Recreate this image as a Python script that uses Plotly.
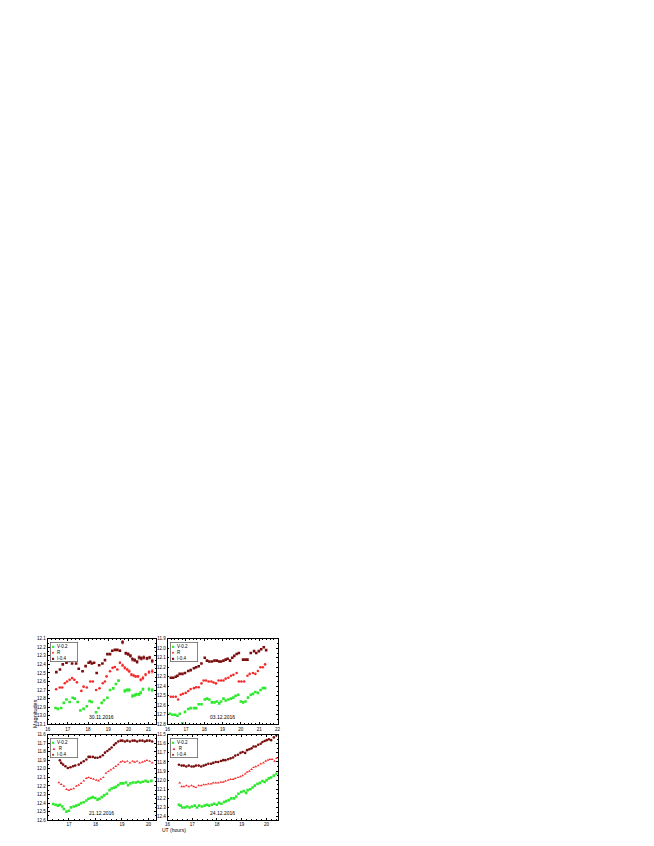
import plotly.graph_objects as go
from plotly.subplots import make_subplots

# ---- 30.11.2016 ----
t1_V = [16.39,16.51,16.67,16.80,16.93,17.09,17.24,17.34,17.49,17.62,17.78,17.94,18.08,18.19,18.40,18.52,18.68,18.79,18.96,19.09,
        19.25,19.38,19.51,19.82,19.94,20.04,20.20,20.31,20.40,20.53,20.61,20.72,21.02,21.18]
m1_V = [12.91,12.92,12.91,12.85,12.81,12.84,12.79,12.80,12.84,12.94,12.92,12.89,12.83,12.84,12.96,12.91,12.85,12.82,12.79,12.70,
        12.68,12.63,12.59,12.71,12.70,12.70,12.77,12.76,12.75,12.75,12.73,12.69,12.69,12.70]
e1_V = [0,0,0,0,0,0,0,0,0,0,0,0,0,0,0,0,0,0,0,0,0,0,0,
        0.02,0.02,0.02,0.02,0.015,0.015,0.015,0.015,0.015,0.02,0.02]
t1_R = [16.42,16.60,16.72,16.85,16.96,17.09,17.21,17.32,17.45,17.67,17.78,17.94,18.11,18.24,18.40,18.57,18.73,18.84,18.92,19.09,
        19.22,19.33,19.45,19.58,19.71,19.82,19.94,20.04,20.15,20.26,20.36,20.48,20.61,20.72,20.85,21.02,21.18]
m1_R = [12.69,12.67,12.67,12.62,12.60,12.58,12.56,12.58,12.61,12.71,12.66,12.67,12.60,12.60,12.70,12.68,12.62,12.60,12.54,12.48,
        12.44,12.43,12.46,12.38,12.41,12.44,12.46,12.48,12.52,12.53,12.54,12.54,12.58,12.56,12.52,12.49,12.48]
e1_R = [0,0,0,0,0,0,0,0,0,0,0,0,0,0,0,0,0,0,0,0,0,0,0,
        0.01,0.015,0.015,0.015,0.015,0.015,0.015,0.01,0.01,0.015,0.02,0.015,0.015,0.02]
t1_I = [16.43,16.61,16.75,16.93,17.05,17.21,17.41,17.54,17.73,17.88,18.03,18.11,18.19,18.30,18.43,18.55,18.71,18.84,18.96,19.09,
        19.20,19.33,19.45,19.58,19.71,19.87,19.99,20.10,20.20,20.31,20.43,20.53,20.64,20.76,20.92,21.05,21.18]
m1_I = [12.49,12.46,12.40,12.38,12.36,12.39,12.39,12.45,12.48,12.42,12.38,12.37,12.39,12.38,12.50,12.41,12.39,12.35,12.28,12.28,
        12.24,12.23,12.23,12.24,12.14,12.27,12.28,12.30,12.34,12.35,12.37,12.32,12.33,12.32,12.33,12.32,12.36]
e1_I = [0,0,0,0,0,0,0,0,0,0,0,0,0,0,0,0,0,0,0,0,0,0,0,
        0.01,0.02,0.015,0.015,0.015,0.02,0.015,0.015,0.02,0.02,0.02,0.015,0.015,0.02]

# ---- 03.12.2016 ----
t2_V = [16.13,16.27,16.41,16.54,16.67,16.81,16.95,17.13,17.26,17.44,17.56,17.70,17.85,18.03,18.15,18.28,18.42,18.56,18.69,18.82,
        18.92,19.05,19.17,19.32,19.46,19.59,19.71,19.86,20.00,20.12,20.25,20.39,20.54,20.66,20.79,20.93,21.07,21.20,21.32]
m2_V = [12.69,12.70,12.70,12.71,12.69,12.79,12.67,12.64,12.63,12.63,12.63,12.59,12.59,12.54,12.53,12.54,12.57,12.57,12.56,12.58,
        12.56,12.53,12.55,12.54,12.53,12.52,12.50,12.49,12.56,12.57,12.56,12.52,12.49,12.48,12.46,12.47,12.44,12.42,12.42]
t2_R = [16.18,16.31,16.45,16.58,16.72,16.84,16.99,17.13,17.26,17.44,17.56,17.70,17.85,17.97,18.10,18.24,18.39,18.51,18.64,18.78,
        18.92,19.05,19.17,19.32,19.46,19.59,19.77,19.89,20.03,20.18,20.36,20.48,20.66,20.79,20.93,21.07,21.20,21.32]
m2_R = [12.51,12.51,12.51,12.54,12.49,12.48,12.47,12.45,12.43,12.42,12.41,12.41,12.37,12.34,12.34,12.35,12.35,12.36,12.37,12.34,
        12.34,12.34,12.32,12.31,12.29,12.28,12.26,12.35,12.35,12.35,12.29,12.27,12.26,12.27,12.24,12.20,12.20,12.17]
t2_I = [16.18,16.31,16.45,16.54,16.66,16.81,16.95,17.13,17.26,17.44,17.56,17.70,17.85,18.03,18.15,18.28,18.42,18.56,18.69,18.82,
        18.92,19.05,19.17,19.28,19.41,19.53,19.64,19.77,19.89,20.12,20.25,20.36,20.54,20.72,20.84,20.98,21.11,21.25,21.38]
m2_I = [12.31,12.31,12.30,12.29,12.27,12.27,12.26,12.24,12.23,12.21,12.20,12.19,12.16,12.10,12.13,12.14,12.14,12.13,12.13,12.14,
        12.14,12.13,12.12,12.11,12.13,12.10,12.08,12.06,12.05,12.12,12.12,12.12,12.05,12.03,12.05,12.03,12.01,11.99,12.02]

# ---- 21.12.2016 ----
t3_V = [16.41,16.50,16.59,16.66,16.75,16.81,16.91,17.00,17.08,17.18,17.28,17.37,17.46,17.56,17.66,17.74,17.83,17.90,17.99,18.08,
        18.15,18.24,18.33,18.43,18.53,18.61,18.70,18.77,18.86,18.95,19.05,19.15,19.23,19.32,19.42,19.52,19.61,19.70,19.79,19.89,
        19.98,20.11]
m3_V = [12.41,12.42,12.43,12.42,12.44,12.47,12.50,12.49,12.45,12.44,12.43,12.42,12.40,12.39,12.37,12.35,12.34,12.33,12.34,12.36,
        12.35,12.33,12.31,12.29,12.25,12.23,12.22,12.21,12.19,12.17,12.17,12.16,12.19,12.17,12.16,12.16,12.15,12.16,12.15,12.14,
        12.15,12.14]
t3_R = [16.62,16.71,16.81,16.91,17.00,17.08,17.18,17.28,17.37,17.46,17.56,17.66,17.74,17.83,17.93,18.03,18.12,18.20,18.30,18.40,
        18.49,18.58,18.68,18.77,18.86,18.95,19.02,19.11,19.20,19.30,19.40,19.48,19.57,19.67,19.77,19.86,19.94,20.04,20.14]
m3_R = [12.16,12.18,12.20,12.24,12.25,12.24,12.23,12.20,12.19,12.17,12.14,12.11,12.10,12.11,12.12,12.13,12.14,12.12,12.10,12.05,
        12.03,12.01,11.99,11.97,11.95,11.92,11.91,11.92,11.91,11.93,11.91,11.92,11.91,11.93,11.92,11.91,11.90,11.91,11.93]
t3_I = [16.66,16.71,16.78,16.87,16.96,17.06,17.16,17.24,17.37,17.46,17.56,17.66,17.74,17.80,17.90,17.99,18.08,18.18,18.28,18.36,
        18.45,18.53,18.61,18.70,18.77,18.86,18.95,19.02,19.11,19.20,19.30,19.40,19.48,19.57,19.67,19.77,19.86,19.94,20.04,20.14]
m3_I = [11.90,11.93,11.95,11.97,11.99,11.98,11.97,11.96,11.95,11.93,11.91,11.89,11.86,11.86,11.86,11.87,11.87,11.86,11.84,11.81,
        11.79,11.77,11.75,11.72,11.70,11.68,11.67,11.67,11.68,11.67,11.68,11.67,11.67,11.68,11.67,11.67,11.68,11.67,11.67,11.68]

# ---- 24.12.2016 ----
t4_V = [16.46,16.53,16.60,16.70,16.79,16.89,16.99,17.10,17.19,17.28,17.39,17.50,17.59,17.68,17.79,17.89,17.99,18.08,18.18,18.29,
        18.38,18.48,18.58,18.69,18.78,18.87,18.98,19.08,19.18,19.24,19.35,19.44,19.53,19.64,19.74,19.84,19.93,20.01,20.10,20.19,
        20.30,20.41]
m4_V = [12.27,12.28,12.30,12.30,12.29,12.30,12.29,12.28,12.30,12.28,12.29,12.28,12.27,12.28,12.27,12.26,12.27,12.25,12.26,12.24,
        12.23,12.22,12.20,12.20,12.18,12.15,12.13,12.12,12.14,12.11,12.10,12.08,12.06,12.04,12.03,12.01,12.02,12.00,11.98,11.97,
        11.95,11.93]
t4_R = [16.49,16.57,16.66,16.76,16.86,16.97,17.06,17.15,17.26,17.36,17.46,17.55,17.65,17.76,17.85,17.95,18.05,18.16,18.25,18.34,
        18.45,18.55,18.65,18.74,18.85,18.95,19.04,19.14,19.22,19.31,19.40,19.48,19.57,19.67,19.77,19.88,19.97,20.06,20.14,20.23,
        20.33,20.41]
m4_R = [12.03,12.07,12.07,12.06,12.07,12.06,12.07,12.08,12.06,12.06,12.05,12.05,12.04,12.04,12.03,12.03,12.03,12.02,12.02,12.01,
        12.00,11.99,11.99,11.98,11.97,11.96,11.95,11.93,11.91,11.90,11.88,11.86,11.85,11.84,11.82,11.81,11.79,11.78,11.77,11.77,
        11.79,11.76]
t4_I = [16.46,16.57,16.66,16.76,16.86,16.97,17.06,17.15,17.26,17.36,17.46,17.55,17.65,17.76,17.85,17.95,18.05,18.16,18.25,18.34,
        18.45,18.55,18.65,18.74,18.85,18.95,19.04,19.14,19.22,19.31,19.40,19.48,19.57,19.67,19.77,19.84,19.93,20.01,20.10,20.19,
        20.30,20.41]
m4_I = [11.83,11.84,11.84,11.85,11.84,11.85,11.85,11.84,11.84,11.85,11.84,11.83,11.82,11.82,11.81,11.80,11.80,11.79,11.78,11.78,
        11.77,11.76,11.75,11.73,11.72,11.70,11.69,11.70,11.67,11.66,11.65,11.63,11.63,11.61,11.60,11.58,11.57,11.56,11.55,11.56,
        11.53,11.51]

dates = ["30.11.2016", "03.12.2016", "21.12.2016", "24.12.2016"]
labels = ["V-0.2", "R", "I-0.4"]
cV, cR, cI = "#2ee82e", "#f52a2a", "#7a0e0e"

fig = make_subplots(rows=2, cols=2)

def add(t, m, color, symbol, row, col, err=None):
    ey = None
    if err is not None:
        ey = dict(type="data", array=err, thickness=0.5, width=1, color=color)
    fig.add_trace(go.Scatter(x=t, y=m, mode="markers", error_y=ey,
                             marker=dict(color=color, size=2.6, symbol=symbol, line=dict(width=0)),
                             showlegend=False), row=row, col=col)

add(t1_V, m1_V, cV, "square", 1, 1, e1_V)
add(t1_R, m1_R, cR, "circle", 1, 1, e1_R)
add(t1_I, m1_I, cI, "square", 1, 1, e1_I)
add(t2_V, m2_V, cV, "square", 1, 2)
add(t2_R, m2_R, cR, "circle", 1, 2)
add(t2_I, m2_I, cI, "square", 1, 2)
add(t3_V, m3_V, cV, "square", 2, 1)
add(t3_R, m3_R, cR, "triangle-up", 2, 1)
add(t3_I, m3_I, cI, "circle", 2, 1)
add(t4_V, m4_V, cV, "square", 2, 2)
add(t4_R, m4_R, cR, "triangle-up", 2, 2)
add(t4_I, m4_I, cI, "circle", 2, 2)

W, H = 654, 846
xl = [37 / W, 146 / W]
xr = [158 / W, 269 / W]
yt = [1 - 718.5 / H, 1 - 632.5 / H]
yb = [1 - 815 / H, 1 - 729 / H]

ax = dict(showline=True, linecolor="black", linewidth=0.8, mirror="allticks", ticks="inside",
          ticklen=2, tickwidth=0.6, tickcolor="black", showgrid=False, zeroline=False,
          tickfont=dict(size=4.5, color="black", family="Liberation Sans"))
xminor = dict(ticks="inside", ticklen=1, tickwidth=0.5, tickcolor="black", dtick=0.2)
yminor = dict(ticks="inside", ticklen=1, tickwidth=0.5, tickcolor="black", dtick=0.05)

fig.update_layout(
    xaxis=dict(ax, domain=xl, range=[16, 21.35], dtick=1, minor=xminor),
    xaxis2=dict(ax, domain=xr, range=[16, 22], dtick=1, minor=xminor),
    xaxis3=dict(ax, domain=xl, range=[16.2, 20.27], dtick=1, minor=xminor),
    xaxis4=dict(ax, domain=xr, range=[16, 20.45], dtick=1, minor=xminor),
    yaxis=dict(ax, domain=yt, range=[13.1, 12.1], dtick=0.1, tickformat=".1f", minor=yminor),
    yaxis2=dict(ax, domain=yt, range=[12.8, 11.9], dtick=0.1, tickformat=".1f", minor=yminor),
    yaxis3=dict(ax, domain=yb, range=[12.6, 11.6], dtick=0.1, tickformat=".1f", minor=yminor),
    yaxis4=dict(ax, domain=yb, range=[12.44, 11.5], dtick=0.1, tickformat=".1f", minor=yminor),
)

legend_syms = [("■", "●", "■"), ("■", "●", "■"), ("■", "▲", "●"), ("■", "▲", "●")]
for k in range(4):
    xs = "x" if k == 0 else "x%d" % (k + 1)
    ys = "y" if k == 0 else "y%d" % (k + 1)
    fig.add_annotation(x=0.5, y=0.03, xref=xs + " domain", yref=ys + " domain", xanchor="center",
                       yanchor="bottom", text=dates[k], showarrow=False,
                       font=dict(size=5, color="black", family="Liberation Sans"))
    s = legend_syms[k]
    txt = "<br>".join("<span style='color:%s'>%s</span>  %s" % (c, sy, lb)
                      for c, sy, lb in zip((cV, cR, cI), s, labels))
    fig.add_annotation(x=0.02, y=0.96, xref=xs + " domain", yref=ys + " domain", xanchor="left",
                       yanchor="top", text=txt, showarrow=False, align="left", width=24,
                       bordercolor="#666666", borderwidth=0.8, borderpad=1, bgcolor="white",
                       font=dict(size=4.5, color="black", family="Liberation Sans"))

fig.add_annotation(x=19 / W, y=1 - 724 / H, xref="paper", yref="paper", text="Magnitudes",
                   textangle=-90, showarrow=False, font=dict(size=5.5, color="black", family="Liberation Sans"))
fig.add_annotation(x=150 / W, y=1 - 830 / H, xref="paper", yref="paper", text="UT (hours)",
                   showarrow=False, font=dict(size=5, color="black", family="Liberation Sans"))

fig.update_layout(width=W, height=H, margin=dict(l=0, r=0, t=0, b=0),
                  paper_bgcolor="white", plot_bgcolor="white")

fig.write_html("out.html")
